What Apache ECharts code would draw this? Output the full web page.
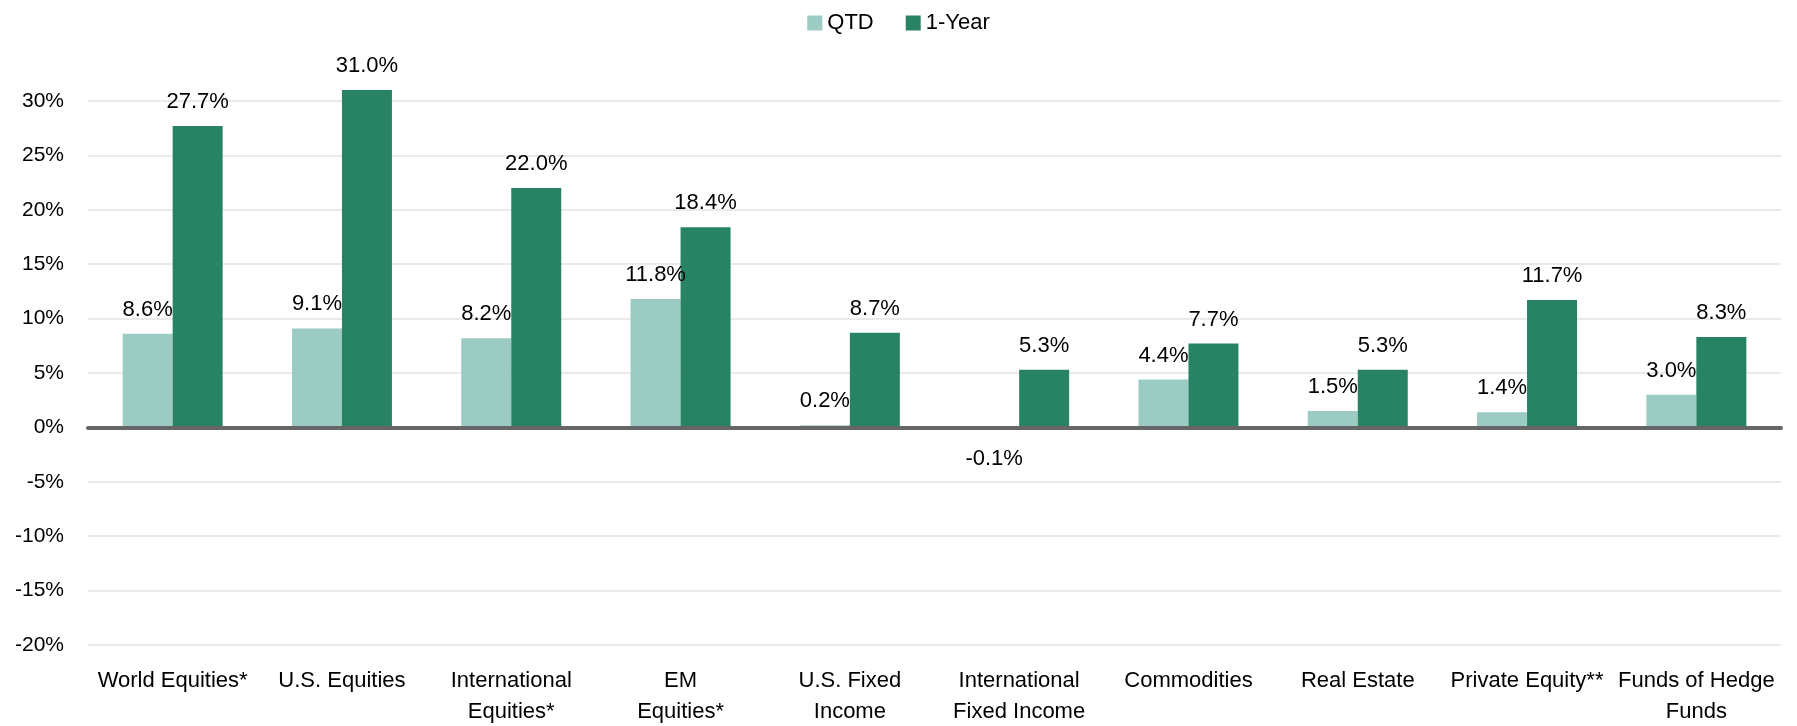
<!DOCTYPE html>
<html>
<head>
<meta charset="utf-8">
<script src="https://cdn.jsdelivr.net/npm/echarts@6/dist/echarts.min.js"></script>
<style>
  html, body { margin: 0; padding: 0; background: #fff; }
  #chart { width: 1797px; height: 726px; }
</style>
</head>
<body>
<div id="chart"></div>
<script>
const categories = ['World Equities*', 'U.S. Equities', 'International\nEquities*', 'EM\nEquities*',
  'U.S. Fixed\nIncome', 'International\nFixed Income', 'Commodities', 'Real Estate',
  'Private Equity**', 'Funds of Hedge\nFunds']
const qtd = [8.6, 9.1, 8.2, 11.8, 0.2, -0.1, 4.4, 1.5, 1.4, 3.0]
const oneYear = [27.7, 31.0, 22.0, 18.4, 8.7, 5.3, 7.7, 5.3, 11.7, 8.3]

const font = "'Liberation Sans', Arial, sans-serif"

const chart = echarts.init(document.getElementById('chart'))

const labelStyle = {
  show: true,
  position: 'top',
  distance: 13,
  fontFamily: font,
  fontSize: 22,
  color: '#000',
  formatter: p => p.value.toFixed(1) + '%'
}

// negative values get their label under the axis
function withLabels(arr) {
  return arr.map(v => v < 0 ? { value: v, label: { position: 'bottom', distance: 19 } } : v)
}

chart.setOption({
  animation: false,
  legend: {
    top: 7,
    left: 'center',
    itemWidth: 15,
    itemHeight: 15,
    itemGap: 32,
    icon: 'rect',
    textStyle: { fontFamily: font, fontSize: 22, color: '#000' },
    data: ['QTD', '1-Year']
  },
  grid: {
    left: 88,
    right: 16,
    top: 101,
    bottom: 81,
    outerBoundsMode: 'none'
  },
  xAxis: {
    type: 'category',
    data: categories,
    z: 3,
    axisLine: { onZero: true, lineStyle: { color: '#666', width: 4 } },
    axisTick: { show: false },
    axisLabel: {
      interval: 0,
      margin: 20,
      fontFamily: font,
      fontSize: 22,
      lineHeight: 31,
      color: '#000'
    }
  },
  yAxis: {
    type: 'value',
    min: -20,
    max: 30,
    interval: 5,
    axisLine: { show: false },
    axisTick: { show: false },
    splitLine: { lineStyle: { color: '#e3e3e3', width: 1.5 } },
    axisLabel: {
      margin: 24,
      fontFamily: font,
      fontSize: 21,
      color: '#000',
      formatter: v => v + '%'
    }
  },
  series: [{
    name: 'QTD',
    type: 'bar',
    barWidth: 50,
    barGap: '0%',
    clip: false,
    itemStyle: { color: '#9bcbc2' },
    label: labelStyle,
    data: withLabels(qtd)
  }, {
    name: '1-Year',
    type: 'bar',
    barWidth: 50,
    barGap: '0%',
    clip: false,
    itemStyle: { color: '#288264' },
    label: labelStyle,
    data: withLabels(oneYear)
  }]
})
</script>
</body>
</html>
